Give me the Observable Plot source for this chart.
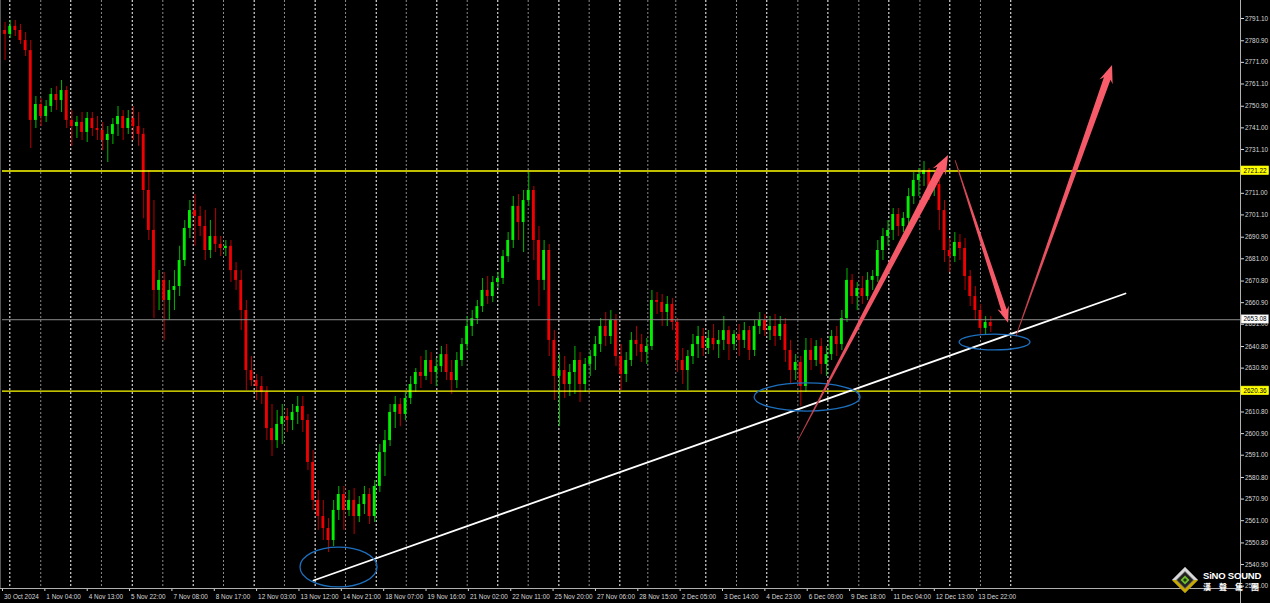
<!DOCTYPE html>
<html><head><meta charset="utf-8">
<script src="https://cdn.jsdelivr.net/npm/d3@7"></script>
<script src="https://cdn.jsdelivr.net/npm/@observablehq/plot@0.6"></script>
<style>
html,body{margin:0;padding:0;background:#000;}
#wrap{position:relative;width:1270px;height:603px;overflow:hidden;background:#000;}
#logo{position:absolute;left:1171px;top:566px;width:99px;height:30px;}
#logo svg{position:absolute;left:0;top:0;}
#logo .t1{position:absolute;left:32px;top:4px;font:bold 9.5px 'Liberation Sans',Arial,sans-serif;color:#fff;letter-spacing:-0.2px;white-space:nowrap;}
#logo .t2{position:absolute;left:32px;top:16px;width:56px;display:flex;justify-content:space-between;font:bold 8px 'Noto Sans CJK TC',sans-serif;color:#fff;line-height:9px;}
</style></head><body><div id="wrap"><div id="logo">
<svg width="28" height="28" viewBox="0 0 28 28">
<polygon points="14,1 27,14 14,27 1,14" fill="#6e6e6e"/>
<polygon points="14,1 27,14 23,14 14,5 5,14 1,14" fill="#d8d8d8"/>
<polygon points="1,14 5,14 14,23 23,14 27,14 14,27" fill="#c9a800"/>
<polygon points="14,6 22,14 14,22 6,14" fill="#222"/>
<polygon points="14,9.5 18.5,14 14,18.5 9.5,14" fill="#6fbf2a"/>
<polygon points="14,12 16,14 14,16 12,14" fill="#1c3a08"/>
</svg>
<div class="t1">SiNO SOUND</div><div class="t2"><span>漢</span><span>聲</span><span>集</span><span>團</span></div>
</div></div>
<script>
// ---- candle data (XAUUSD H1, each candle = 4 hourly bars) ----
const barsPerCandle = 4;
const candleOpen = [2785.6,2783.8,2787.5,2785.6,2781.0,2776.4,2744.4,2751.7,2746.2,2750.8,2756.3,2753.5,2758.1,2744.4,2741.6,2743.5,2738.9,2745.3,2740.7,2739.8,2735.2,2738.0,2742.5,2746.2,2740.7,2745.3,2741.6,2738.0,2712.3,2694.0,2666.5,2671.1,2661.9,2666.5,2668.3,2680.2,2694.9,2703.1,2700.4,2695.8,2684.8,2691.2,2687.6,2685.7,2686.7,2675.6,2671.1,2657.3,2629.8,2625.2,2622.5,2619.7,2603.2,2597.7,2605.1,2608.7,2606.9,2610.6,2613.3,2606.9,2587.7,2570.3,2562.9,2557.4,2551.9,2565.7,2573.0,2565.7,2570.3,2562.9,2568.4,2573.0,2562.9,2576.7,2592.2,2597.7,2610.6,2614.2,2609.7,2617.0,2623.4,2628.9,2627.1,2634.4,2628.9,2631.6,2637.1,2628.9,2625.2,2634.4,2641.7,2650.0,2653.6,2659.1,2666.5,2663.7,2670.1,2672.0,2682.0,2689.4,2705.0,2697.6,2707.7,2712.3,2689.4,2671.1,2684.8,2643.6,2627.1,2629.8,2623.4,2628.9,2634.4,2623.4,2632.6,2636.2,2641.7,2650.0,2645.4,2652.7,2636.2,2628.0,2634.4,2643.6,2641.7,2638.1,2640.8,2661.9,2661.0,2656.4,2660.1,2651.8,2634.4,2629.8,2636.2,2641.7,2645.4,2639.9,2644.5,2641.7,2643.6,2648.1,2641.7,2646.3,2643.6,2648.1,2639.0,2650.0,2652.7,2648.1,2650.0,2645.4,2650.9,2639.0,2629.8,2633.5,2622.5,2639.0,2634.4,2640.8,2632.6,2637.1,2645.4,2641.7,2653.6,2671.1,2663.7,2667.4,2663.7,2671.1,2672.9,2684.8,2691.2,2694.0,2701.3,2695.8,2699.5,2709.5,2716.9,2719.6,2721.5,2713.2,2715.0,2703.1,2684.8,2682.0,2688.5,2685.7,2672.9,2663.7,2657.3,2649.1,2651.8];
const candleHigh = [2789.3,2790.2,2790.2,2788.4,2784.7,2781.0,2755.4,2754.4,2753.5,2759.0,2759.9,2762.7,2759.9,2749.0,2746.2,2748.0,2748.0,2748.0,2746.2,2743.5,2741.6,2745.3,2750.8,2749.0,2749.0,2750.8,2748.0,2740.7,2721.5,2707.7,2675.6,2674.7,2671.1,2675.6,2686.7,2698.5,2707.7,2710.5,2705.0,2703.1,2698.5,2704.0,2691.2,2689.4,2689.4,2679.3,2675.6,2661.9,2636.2,2628.0,2627.1,2622.5,2614.2,2611.5,2614.2,2612.4,2614.2,2617.9,2617.9,2609.7,2593.2,2574.8,2570.3,2562.0,2570.3,2576.7,2576.7,2574.8,2575.8,2572.1,2576.7,2575.8,2579.4,2595.9,2602.3,2614.2,2617.9,2617.0,2619.7,2627.1,2630.7,2636.2,2639.0,2638.1,2635.3,2640.8,2641.7,2634.4,2638.1,2644.5,2654.6,2657.3,2661.9,2672.0,2672.9,2672.9,2674.7,2684.8,2693.0,2709.5,2710.5,2712.3,2720.5,2714.1,2695.8,2689.4,2687.6,2648.1,2637.1,2636.2,2632.6,2640.8,2638.1,2635.3,2639.0,2645.4,2653.6,2656.4,2657.3,2655.5,2641.7,2638.1,2647.2,2650.0,2646.3,2644.5,2666.5,2665.6,2664.6,2663.7,2662.8,2653.6,2639.9,2639.0,2646.3,2650.0,2649.1,2648.1,2650.9,2648.1,2654.6,2650.0,2648.1,2650.9,2651.8,2650.0,2652.7,2656.4,2655.5,2654.6,2655.5,2654.6,2653.6,2643.6,2637.1,2636.2,2644.5,2644.5,2643.6,2644.5,2640.8,2648.1,2650.0,2657.3,2676.5,2673.8,2670.1,2672.9,2674.7,2675.6,2689.4,2694.9,2698.5,2704.0,2704.0,2702.2,2713.2,2720.5,2722.4,2725.6,2722.4,2718.7,2716.9,2707.7,2690.3,2693.0,2692.1,2690.3,2675.6,2668.3,2660.1,2654.6,2654.6];
const candleLow = [2771.9,2781.9,2782.9,2779.2,2773.7,2731.5,2740.7,2741.6,2743.5,2748.0,2749.0,2748.0,2740.7,2732.5,2736.1,2735.2,2734.3,2737.0,2735.2,2730.6,2725.1,2733.4,2737.0,2735.2,2738.0,2735.2,2732.5,2699.4,2689.4,2653.6,2657.3,2643.6,2652.7,2657.3,2663.7,2677.5,2690.3,2686.7,2691.2,2680.2,2681.1,2683.9,2682.0,2682.0,2670.1,2666.5,2648.1,2620.7,2622.5,2616.1,2614.2,2597.7,2590.4,2594.1,2595.9,2601.4,2602.3,2605.1,2601.4,2584.0,2565.7,2556.5,2551.9,2546.4,2549.2,2561.1,2556.5,2562.9,2554.7,2560.2,2563.8,2559.3,2560.2,2573.9,2581.3,2595.0,2603.2,2604.1,2606.9,2614.2,2619.7,2621.6,2625.2,2623.4,2622.5,2628.9,2625.2,2618.8,2621.6,2631.6,2639.0,2645.4,2650.9,2656.4,2660.1,2661.0,2667.4,2669.2,2679.3,2685.7,2689.4,2683.9,2705.0,2680.2,2659.1,2666.5,2636.2,2616.1,2604.1,2617.0,2617.9,2618.8,2615.2,2619.7,2627.1,2629.8,2638.1,2640.8,2641.7,2631.6,2620.7,2624.3,2631.6,2636.2,2633.5,2632.6,2639.0,2655.5,2650.0,2650.0,2648.1,2628.9,2623.4,2620.7,2632.6,2635.3,2636.2,2637.1,2639.0,2635.3,2639.0,2634.4,2639.0,2636.2,2639.9,2634.4,2636.2,2646.3,2645.4,2643.6,2640.8,2643.6,2633.5,2623.4,2625.2,2613.3,2619.7,2629.8,2631.6,2628.0,2627.1,2634.4,2636.2,2639.0,2651.8,2660.1,2657.3,2660.1,2661.9,2666.5,2670.1,2680.2,2686.7,2689.4,2691.2,2693.0,2696.7,2705.9,2709.5,2714.1,2707.7,2709.5,2694.0,2679.3,2674.7,2679.3,2680.2,2666.5,2659.1,2652.7,2646.3,2646.3,2647.2];
const candleClose = [2783.8,2787.5,2785.6,2781.0,2776.4,2744.4,2751.7,2746.2,2750.8,2756.3,2753.5,2758.1,2744.4,2741.6,2743.5,2738.9,2745.3,2740.7,2739.8,2735.2,2738.0,2742.5,2746.2,2740.7,2745.3,2741.6,2738.0,2712.3,2694.0,2666.5,2671.1,2661.9,2666.5,2668.3,2680.2,2694.9,2703.1,2700.4,2695.8,2684.8,2691.2,2687.6,2685.7,2686.7,2675.6,2671.1,2657.3,2629.8,2625.2,2622.5,2619.7,2603.2,2597.7,2605.1,2608.7,2606.9,2610.6,2613.3,2606.9,2587.7,2570.3,2562.9,2557.4,2551.9,2565.7,2573.0,2565.7,2570.3,2562.9,2568.4,2573.0,2562.9,2576.7,2592.2,2597.7,2610.6,2614.2,2609.7,2617.0,2623.4,2628.9,2627.1,2634.4,2628.9,2631.6,2637.1,2628.9,2625.2,2634.4,2641.7,2650.0,2653.6,2659.1,2666.5,2663.7,2670.1,2672.0,2682.0,2689.4,2705.0,2697.6,2707.7,2712.3,2689.4,2671.1,2684.8,2643.6,2627.1,2629.8,2623.4,2628.9,2634.4,2623.4,2632.6,2636.2,2641.7,2650.0,2645.4,2652.7,2636.2,2628.0,2634.4,2643.6,2641.7,2638.1,2640.8,2661.9,2661.0,2656.4,2660.1,2651.8,2634.4,2629.8,2636.2,2641.7,2645.4,2639.9,2644.5,2641.7,2643.6,2648.1,2641.7,2646.3,2643.6,2648.1,2639.0,2650.0,2652.7,2648.1,2650.0,2645.4,2650.9,2639.0,2629.8,2633.5,2622.5,2639.0,2634.4,2640.8,2632.6,2637.1,2645.4,2641.7,2653.6,2671.1,2663.7,2667.4,2663.7,2671.1,2672.9,2684.8,2691.2,2694.0,2701.3,2695.8,2699.5,2709.5,2716.9,2719.6,2721.5,2713.2,2715.0,2703.1,2684.8,2682.0,2688.5,2685.7,2672.9,2663.7,2657.3,2649.1,2651.8,2650.0];

// ---- axes ----
const xMaxBar = 964.6;              // bars visible across the chart window
const priceMin = 2529.93, priceMax = 2799.35;
const priceTicks = [2791.10,2780.90,2771.00,2761.10,2750.90,2741.00,2731.10,2711.00,2701.10,2690.90,2681.00,2670.80,2660.90,2651.00,2640.80,2630.90,2610.80,2600.90,2591.00,2580.80,2570.90,2561.00,2550.80,2540.90,2531.00];
const timeTickBars = [0,33,66,99,132,165,198,231,264,297,330,363,396,429,462,495,528,561,594,627,660,693,726,759];
const timeTickLabels = ["30 Oct 2024","1 Nov 04:00","4 Nov 13:00","5 Nov 22:00","7 Nov 08:00","8 Nov 17:00","12 Nov 03:00","13 Nov 12:00","14 Nov 21:00","18 Nov 07:00","19 Nov 16:00","21 Nov 02:00","22 Nov 11:00","25 Nov 20:00","27 Nov 06:00","28 Nov 15:00","2 Dec 05:00","3 Dec 14:00","4 Dec 23:00","6 Dec 09:00","9 Dec 18:00","11 Dec 04:00","12 Dec 13:00","13 Dec 22:00"];
const separatorWhiteBars = [5.7,53.2,101.1,148.6,196.1,243.6,291.2,338.4,385.9,433.5,481.0,548.0,595.5,643.1,690.6,738.1,785.6];
const separatorGrayBars = [29.8,77.1,124.9,172.2,219.7,267.3,314.6,362.1,409.6,457.1,502.8,524.6,571.9,619.7,667.2,714.8,762.0];

// ---- levels & drawings ----
const levelPrices = [2721.22, 2620.36];
const bidPrice = 2653.08;
const trendBars = [242.3, 875.0];
const trendPrices = [2533.6, 2665.1];
const ellipseBarLo = [232.2, 586.0, 745.7];
const ellipseBarHi = [292.2, 668.5, 801.0];
const ellipsePriceLo = [2530.4, 2611.0, 2639.0];
const ellipsePriceHi = [2548.7, 2623.9, 2646.3];
const arrowFromBar = [620.2, 742.6, 790.1];
const arrowFromPrice = [2597.7, 2726.0, 2645.5];
const arrowToBar = [737.1, 783.9, 864.9];
const arrowToPrice = [2728.3, 2651.5, 2769.6];

// ---- styles ----
const arrowStyle = [{tail:0.8, shaft:8, head:15, headL:19},{tail:0.8, shaft:5.5, head:12, headL:16},{tail:0.8, shaft:7, head:14, headL:18}];
const BULL = "#00f000", BULL_W = "#00a800", BEAR = "#f00000", BEAR_W = "#a80000";
const AXIS_FONT = 6.4;

const candles = candleOpen.map((o, i) => ({start: i * barsPerCandle, o, h: candleHigh[i], l: candleLow[i], c: candleClose[i]}));
const up = d => d.c >= d.o;

function overlay(draw) {
  return (index, scales, values, dimensions) => {
    const g = d3.create("svg:g");
    draw(g, scales, dimensions);
    return g.node();
  };
}

const chart = Plot.plot({
  width: 1270, height: 603,
  marginLeft: 2, marginRight: 30, marginTop: 0, marginBottom: 15,
  style: {background: "#000", color: "#d8d8d8", fontFamily: "'Liberation Sans', Arial, sans-serif", fontSize: AXIS_FONT + "px", overflow: "visible"},
  x: {domain: [0, xMaxBar], axis: "bottom", ticks: timeTickBars, tickFormat: () => "", tickSize: 3, label: null},
  y: {domain: [priceMin, priceMax], axis: "right", ticks: priceTicks, tickFormat: d => d.toFixed(2), tickSize: 3, tickPadding: 1.5, label: null},
  marks: [
    Plot.ruleX(separatorGrayBars, {x: d => d, stroke: "#8a8a8a", strokeDasharray: "2,2", strokeWidth: 1}),
    Plot.ruleX(separatorWhiteBars, {x: d => d, stroke: "#ffffff", strokeDasharray: "2,2", strokeWidth: 1}),
    Plot.ruleX(candles, {x: d => d.start + 2, y1: "l", y2: "h", stroke: d => up(d) ? BULL_W : BEAR_W, strokeWidth: 1.1}),
    Plot.rect(candles, {x1: d => d.start + 0.9, x2: d => d.start + 3.1, y1: d => Math.min(d.o, d.c), y2: d => Math.max(d.o, d.c), fill: d => up(d) ? BULL : BEAR}),
    Plot.ruleY([bidPrice], {stroke: "#8c8c8c", strokeWidth: 1}),
    Plot.ruleY(levelPrices, {stroke: "#ffff00", strokeWidth: 1.4}),
    Plot.line(trendBars.map((b, i) => ({b, p: trendPrices[i]})), {x: "b", y: "p", stroke: "#ffffff", strokeWidth: 1.8}),
    Plot.text(timeTickBars, {x: d => d, y: priceMin, text: (d, i) => timeTickLabels[i], textAnchor: "start", dx: 1.5, dy: 8, fill: "#d8d8d8", fontSize: AXIS_FONT}),
    overlay((g, {x, y}, dim) => {
      // ellipses
      ellipseBarLo.forEach((b, i) => {
        const x0 = x(b), x1 = x(ellipseBarHi[i]), y0 = y(ellipsePriceHi[i]), y1 = y(ellipsePriceLo[i]);
        g.append("ellipse").attr("cx", (x0 + x1) / 2).attr("cy", (y0 + y1) / 2)
          .attr("rx", (x1 - x0) / 2).attr("ry", (y1 - y0) / 2)
          .attr("fill", "none").attr("stroke", "#1d6fbd").attr("stroke-width", 1.3);
      });
      // tapered arrows
      const defs = g.append("defs");
      arrowFromBar.forEach((b, i) => {
        const x0 = x(b), y0 = y(arrowFromPrice[i]), x1 = x(arrowToBar[i]), y1 = y(arrowToPrice[i]);
        const st = arrowStyle[i];
        const dx = x1 - x0, dy = y1 - y0, len = Math.hypot(dx, dy);
        const ux = dx / len, uy = dy / len, nx = -uy, ny = ux;
        const bx = x1 - ux * st.headL, by = y1 - uy * st.headL;
        const cx = x1 - ux * st.headL * 0.8, cy = y1 - uy * st.headL * 0.8;
        const P = (px, py, w) => [px + nx * w / 2, py + ny * w / 2];
        const pts = [P(x0, y0, st.tail), P(cx, cy, st.shaft), P(bx, by, st.head), [x1, y1], P(bx, by, -st.head), P(cx, cy, -st.shaft), P(x0, y0, -st.tail)];
        const id = "ag" + i;
        const grad = defs.append("linearGradient").attr("id", id).attr("gradientUnits", "userSpaceOnUse")
          .attr("x1", x0).attr("y1", y0).attr("x2", x1).attr("y2", y1);
        grad.append("stop").attr("offset", "0").attr("stop-color", "#b83a48");
        grad.append("stop").attr("offset", "0.35").attr("stop-color", "#ee5464");
        grad.append("stop").attr("offset", "1").attr("stop-color", "#fa5d6c");
        g.append("path").attr("d", "M" + pts.map(p => p.join(",")).join("L") + "Z").attr("fill", `url(#${id})`);
      });
      // axis frame lines
      const right = dim.width - dim.marginRight, bottom = dim.height - dim.marginBottom;
      g.append("line").attr("x1", 0).attr("x2", right).attr("y1", bottom + 0.5).attr("y2", bottom + 0.5).attr("stroke", "#b0b0b0");
      g.append("line").attr("x1", right + 0.5).attr("x2", right + 0.5).attr("y1", 0).attr("y2", dim.height).attr("stroke", "#b0b0b0");
      g.append("line").attr("x1", 0.5).attr("x2", 0.5).attr("y1", 0).attr("y2", bottom).attr("stroke", "#555");
      // price labels on the axis
      const boxes = [...levelPrices.map(p => ({p, bg: "#ffff00", bd: "#ffff00"})), {p: bidPrice, bg: "#ffffff", bd: "#8c8c8c"}];
      boxes.forEach(({p, bg, bd}) => {
        const yy = y(p);
        g.append("rect").attr("x", right + 1).attr("y", yy - 4.5).attr("width", 27.5).attr("height", 8.5)
          .attr("fill", bg).attr("stroke", bd).attr("stroke-width", 0.6);
        g.append("text").attr("x", right + 3.5).attr("y", yy).attr("dy", "0.34em").attr("fill", "#000")
          .attr("text-anchor", "start").attr("font-size", AXIS_FONT).text(p.toFixed(2));
      });
    })
  ]
});
document.getElementById("wrap").prepend(chart);
</script>
</body></html>
